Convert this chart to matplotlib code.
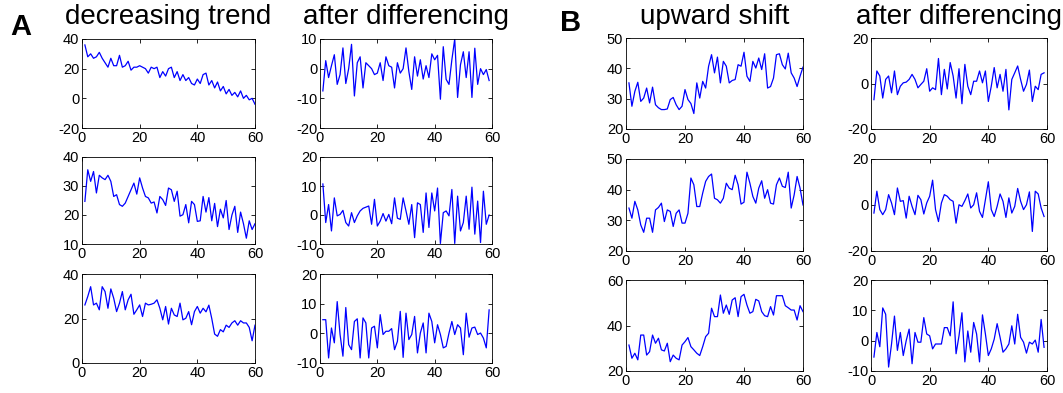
import numpy as np
import matplotlib
matplotlib.use("Agg")
import matplotlib.pyplot as plt

plt.rcParams['font.family'] = ['Liberation Sans', 'DejaVu Sans']
plt.rcParams['axes.unicode_minus'] = False

# --- panel A: decreasing trend and its first differences ---
a_trend_1 = [36, 28, 30, 27, 28, 31, 27, 24, 21, 27, 22, 22, 29, 21, 22, 25, 19, 21, 21, 22,
             21, 20, 17, 21, 20, 21, 14, 18, 15, 20, 21, 14, 18, 12, 16, 12, 14, 10, 9, 13,
             10, 16, 17, 9, 12, 7, 11, 5, 8, 3, 6, 2, 4, 1, 5, 0, 2, -1, 0, -4]
a_diff_1 = [-7.5, 2.7, -3, 1, 4.7, -5.3, -2, 7, -5, 0, 8.2, -9.2, 2, 4, -6.5, 2, 1, 0, -2, -1.5,
            2, -4, 4, 1, 0.5, -6.5, 2, -1.5, 0, 7, -1, -7, 4, -2.5, 3, -3.5, 1, -3, 5, 3,
            4.5, -10.3, 7.4, -3.6, -5.3, 3, 10, -9.7, 1.3, 5.7, -3, 5.7, -9.7, 6.9, -5.3, 0, -2, -0.3, -4]
a_trend_2 = [24.7, 35.6, 31.6, 35, 27.6, 33.7, 32.8, 32.2, 33.7, 31.6, 26.4, 27, 23.6, 23, 24.1,
             26.4, 28.7, 31, 27.2, 32.8, 29.3, 26.4, 25.9, 24.1, 24.5, 20.7, 26.4, 25.3, 23.3, 29.3,
             28.7, 24.7, 28.2, 19.6, 20.1, 23.6, 17.3, 24.7, 23.6, 17.8, 18, 26.4, 21, 26, 18,
             24, 16, 22, 19, 25, 15, 20, 23, 14, 21, 17, 12, 18, 15, 17]
a_diff_2 = [10.7, -2.6, 3.6, -5.5, 5.9, -0.3, 0.2, 1.6, -2.6, -3.8, 0.8, -2.6, -0.3, 1.4, 2.3,
            2.7, 3.1, -3.2, 5.4, -3.8, -2.1, 0.5, -2.1, 0.2, -3, 5.9, -1.1, -1.5, 5.9, 1.4,
            -3.2, 3.6, -7.8, 4.2, 3.6, -6, 7.6, -4.3, 7.6, 1.4, 9.3, -9.8, 0.8, 1.4, -0.3,
            8.8, -9.8, 6.5, -5.5, -2.6, 6.5, -4.9, 9.6, -6.6, 4.8, -9.5, 8.2, -3.2, 0]
a_trend_3 = [26.1, 29.9, 34.3, 26.1, 26.9, 23.9, 34.3, 32.1, 24.6, 33.3, 29.1, 23.1, 26.9, 32.1,
             23.9, 28.4, 30.9, 21.9, 23.9, 26.1, 20.9, 26.9, 26.1, 26.4, 26.9, 28.4, 24.6, 19.4,
             25.4, 17.5, 24.6, 21.6, 20.9, 26.9, 19.4, 20.1, 23.1, 17.2, 23.1, 25.4, 22.4, 24.6,
             23, 26, 20, 13, 12, 15, 14, 17, 16, 18, 19, 17, 19, 18, 18, 16, 10, 17]
a_diff_3 = [4.6, 4.6, -8.3, 1.8, -3.2, 10.7, -0.4, -7.7, 8.7, -3.8, -5.5, 4, 4.9, -8.3, 5.2,
            3.5, -8.3, 1.8, 2.4, -4.9, 6.3, -0.4, 0.7, 0.7, 1.6, -5.5, -2.7, 7.4, -8.1, 6.8,
            -2.1, -0.4, 5.7, -6.6, 0.1, 3.5, -6.6, 6.8, 4, -3.2, 2.9, -0.4, -4.9, -4.4, 0.1,
            4, -0.4, 2.9, 1.8, -7.2, 6.8, -1.3, 1.8, 2.1, -0.4, 0.1, -1.6, -4.9, 7.9]

# --- panel B: upward shift and its first differences ---
b_shift_1 = [35.2, 27.5, 32.4, 35.4, 29.1, 30.2, 33.5, 28.6, 33.8, 28, 27, 26.4, 26.4, 26.6, 29.7,
             30.4, 28, 26.4, 27.5, 33, 29.7, 28.4, 25.1, 35.2, 30.2, 35.7, 33.5, 40.7, 44.5, 38.5,
             43.7, 35.2, 42.3, 40.7, 35.2, 36, 36.3, 41.2, 40.7, 45.3, 37.4, 35.7, 42.3, 40.1, 43.4,
             39.6, 44.8, 33.5, 34, 36.8, 44.5, 44.8, 41.2, 39.8, 45, 38.5, 36.8, 34, 37.4, 40.4]
b_diff_1 = [-7.1, 5.5, 3.3, -6.4, 1.8, 3.3, -4.1, 5.5, -4.9, -1.2, 0.3, 0.6, 1.8, 4, 1.8,
            -1.9, -0.4, 1, 6.5, -3.4, -1.9, -2.7, 11, -4.9, 6.2, -2.4, 9.2, 3.3, -6.4, 6.5,
            -8.9, 8.4, -1.2, -4.9, 1, 1, 5.5, 0.3, 5.5, -7.9, -1.2, 7, -1.9, 4, -3.4,
            6.2, -11.6, 1.8, 4.7, 7.7, 1.8, -3.4, -0.4, 5.9, -7.9, -1.2, -2.7, 4, 4.7]
b_shift_2 = [34, 30.7, 36.2, 33.4, 28.5, 26.1, 30.7, 30.7, 26.1, 33.4, 34.2, 35.6, 29.6, 33.4, 32.9,
             28, 32.3, 33.4, 29.1, 29.1, 32.3, 43.8, 41.6, 34.5, 34.5, 38.9, 42.7, 44.3, 45.1, 37.2,
             36.7, 35.6, 37.2, 42.1, 40.5, 40, 44.7, 41.6, 35.3, 35.9, 45.7, 42.1, 37.8, 35.6, 40.5,
             42.9, 37.2, 40, 35.6, 35.3, 41.6, 43.8, 41.1, 40.7, 45.7, 34, 38.3, 44.3, 40.5, 35]
b_diff_2 = [-3.5, 6, -2, -4.2, -2, 4.5, 0.9, -4.2, 7.4, 1.6, 1.9, -5.7, 3.8, -0.6, -4.2,
            4.2, 2.3, -3.9, 0.9, 3.8, 10.8, -2, -7.2, 0.9, 4.5, 3.8, 2.3, 1.6, -7.9, 0.1,
            -0.6, 1.9, 4.8, -1.3, 0.1, 5.3, -2.8, -5.4, 2.3, 10.1, -2, -5, -0.6, 4.8, 1.6,
            -5.4, 3.1, -3.5, -0.6, 7.2, 1.6, -2, 0.1, 5.7, -11.5, 6, 4.8, -1.3, -5]
b_shift_3 = [31.4, 25.6, 27.8, 24.9, 35.8, 35.8, 27, 28.5, 35.8, 32.2, 34.4, 29.3, 28.8, 32.2, 24.1,
             27, 25.6, 24.9, 31.4, 32.9, 34.7, 30.7, 29.3, 27.8, 26.8, 30.7, 35.1, 36.6, 47.6, 43.9,
             43.9, 53.4, 45.4, 49, 44.9, 51.2, 52.2, 43.9, 52.7, 53.7, 49, 45.4, 46.1, 51.5, 50.8,
             46.1, 44.3, 43.9, 48.3, 44.6, 53.1, 53.1, 53.1, 48.7, 47.8, 46.8, 46.8, 42.4, 48.7, 46.1]
b_diff_3 = [-5.4, 2.7, -2, 10.8, 8.7, -8.7, -1.1, 8.1, -3.2, 2.7, -4.9, 0, 3.8, -7.6, 2.7,
            -0.5, -0.5, 7.6, 2.2, 1.6, -2.7, -1.1, -1.1, -1.1, 4.3, 4.3, 1.6, 12.8, -4.3, 1.6,
            9.2, -7, 3.2, -3.8, 6, 2.2, -7, 8.5, 2.2, -4.9, -2.7, 0.5, 5.6, 1.1, -3.8,
            -2.7, -1.1, 4.9, -1.1, 8.7, 1.1, -0.5, -4.1, -0.5, -1.1, 0.2, -3.8, 7, -2.2]

col_titles = ["decreasing trend", "after differencing", "upward shift", "after differencing"]
x_ticks = [0, 20, 40, 60]

W, H = 1063, 393
fig = plt.figure(figsize=(W / 100, H / 100), dpi=100)

# pixel boxes (left, right) per column, (top, bottom) per row
cols = [(82, 255), (320, 492), (626, 803), (871, 1047)]
rows_a = [(39, 128), (157, 244), (274, 363)]
rows_b = [(38, 129), (159, 251), (280, 371)]

panels = [
    # (col index, row index, data, ylim, yticks)
    (0, 0, a_trend_1, (-20, 40), [-20, 0, 20, 40]),
    (0, 1, a_trend_2, (10, 40), [10, 20, 30, 40]),
    (0, 2, a_trend_3, (0, 40), [0, 20, 40]),
    (1, 0, a_diff_1, (-20, 10), [-20, -10, 0, 10]),
    (1, 1, a_diff_2, (-10, 20), [-10, 0, 10, 20]),
    (1, 2, a_diff_3, (-10, 20), [-10, 0, 10, 20]),
    (2, 0, b_shift_1, (20, 50), [20, 30, 40, 50]),
    (2, 1, b_shift_2, (20, 50), [20, 30, 40, 50]),
    (2, 2, b_shift_3, (20, 60), [20, 40, 60]),
    (3, 0, b_diff_1, (-20, 20), [-20, 0, 20]),
    (3, 1, b_diff_2, (-20, 20), [-20, 0, 20]),
    (3, 2, b_diff_3, (-10, 20), [-10, 0, 10, 20]),
]

for ci, ri, data, ylim, yticks in panels:
    left, right = cols[ci]
    top, bottom = (rows_a if ci < 2 else rows_b)[ri]
    ax = fig.add_axes([left / W, 1 - bottom / H, (right - left) / W, (bottom - top) / H])
    x = np.arange(1, len(data) + 1)
    ax.plot(x, data, color=(0, 0, 1), lw=0.9)
    ax.set_xlim(0, 60)
    ax.set_ylim(*ylim)
    ax.set_xticks(x_ticks)
    ax.set_yticks(yticks)
    ax.tick_params(direction='in', length=3, width=0.6, top=True, right=True,
                   labelsize=10.5, pad=2)
    for sp in ax.spines.values():
        sp.set_linewidth(0.6)

for ci, title in enumerate(col_titles):
    left, right = cols[ci]
    fig.text((left + right) / 2 / W, 1 - 17 / H, title, ha='center', va='center', fontsize=20)

fig.text(21 / W, 1 - 27 / H, "A", ha='center', va='center', fontsize=21, fontweight='bold')
fig.text(571 / W, 1 - 23 / H, "B", ha='center', va='center', fontsize=21, fontweight='bold')

fig.savefig("out.png", dpi=100)
plt.close(fig)
